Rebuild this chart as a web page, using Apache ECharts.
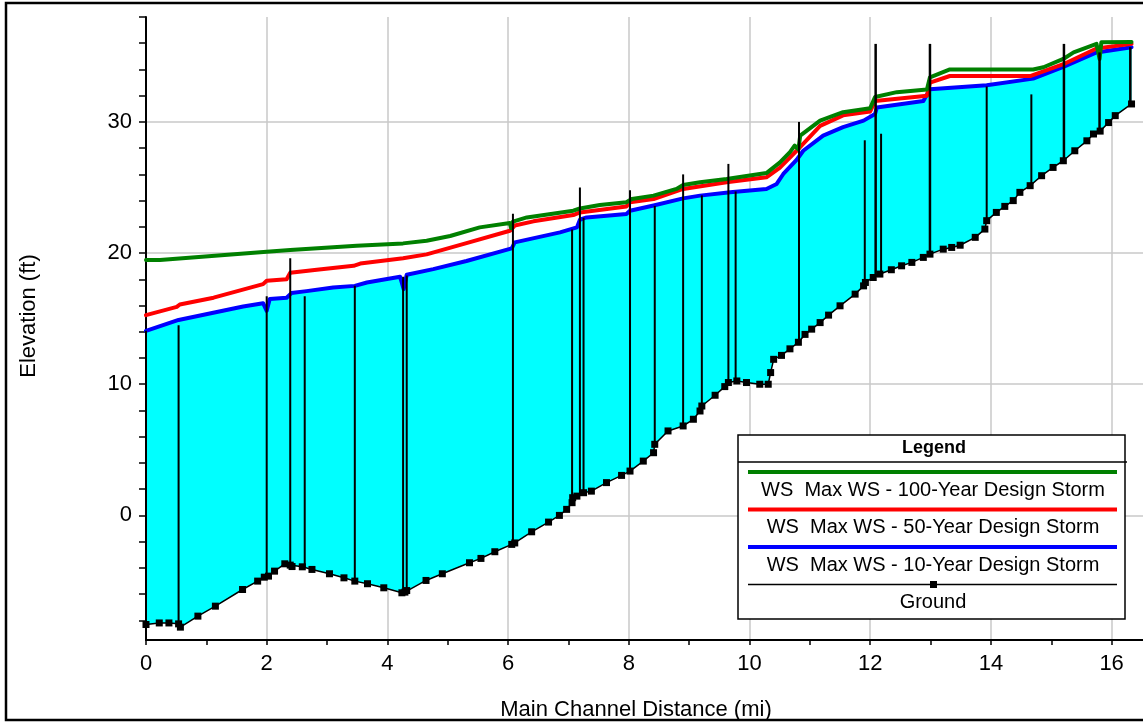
<!DOCTYPE html>
<html>
<head>
<meta charset="utf-8">
<script src="https://cdn.jsdelivr.net/npm/echarts@6/dist/echarts.min.js"></script>
<style>
  html, body { margin: 0; padding: 0; background: #fff; }
  #chart { width: 1143px; height: 725px; }
</style>
</head>
<body>
<div id="chart"></div>
<script>
// profile data, [distance (mi), elevation (ft)]
const ground = [
  [0.00,-8.32],[0.22,-8.2],[0.38,-8.2],[0.54,-8.27],[0.57,-8.52],[0.86,-7.68],[1.15,-6.92],
  [1.60,-5.65],[1.85,-5.01],[1.96,-4.71],[2.03,-4.63],[2.13,-4.25],[2.30,-3.69],[2.39,-3.79],
  [2.42,-3.9],[2.59,-3.92],[2.75,-4.12],[3.04,-4.45],[3.28,-4.76],[3.46,-5.01],[3.67,-5.21],
  [3.94,-5.52],[4.24,-5.90],[4.29,-5.85],[4.32,-5.73],[4.64,-4.96],[4.91,-4.45],[5.36,-3.61],
  [5.55,-3.28],[5.78,-2.77],[6.06,-2.21],[6.11,-2.1],[6.39,-1.25],[6.67,-0.51],[6.85,0.0],
  [6.97,0.46],[7.06,0.97],[7.07,1.35],[7.14,1.47],[7.25,1.73],[7.38,1.85],[7.63,2.5],
  [7.88,3.05],[8.02,3.38],[8.24,4.14],[8.41,4.78],[8.43,5.42],[8.65,6.44],[8.90,6.82],
  [9.07,7.33],[9.18,7.96],[9.21,8.34],[9.43,9.16],[9.59,9.82],[9.65,10.13],[9.79,10.25],
  [9.95,10.13],[10.17,10.0],[10.31,10.0],[10.35,10.89],[10.40,11.9],[10.53,12.2],[10.67,12.7],
  [10.81,13.2],[10.92,13.8],[11.03,14.2],[11.17,14.7],[11.31,15.27],[11.50,15.98],[11.75,16.87],
  [11.89,17.5],[11.92,17.76],[12.05,18.14],[12.16,18.4],[12.35,18.73],[12.52,19.03],[12.69,19.29],
  [12.88,19.67],[12.99,19.92],[13.21,20.3],[13.35,20.43],[13.49,20.6],[13.74,21.2],[13.90,21.83],
  [13.93,22.47],[14.09,23.1],[14.23,23.56],[14.37,24.0],[14.48,24.63],[14.65,25.14],[14.84,25.9],
  [15.03,26.53],[15.20,27.04],[15.39,27.8],[15.59,28.56],[15.70,29.08],[15.81,29.3],[15.95,29.95],
  [16.06,30.48],[16.33,31.37]
];

const ws10 = [
  [0.00,14.07],[0.54,14.9],[1.61,15.93],[1.94,16.18],[2.00,15.6],[2.05,16.5],[2.33,16.6],
  [2.41,16.95],[2.66,17.1],[3.10,17.37],[3.46,17.5],[3.66,17.76],[4.21,18.2],[4.27,17.25],
  [4.32,18.35],[4.76,18.78],[5.31,19.4],[6.06,20.36],[6.11,20.82],[6.86,21.58],[7.14,21.96],
  [7.19,22.55],[7.30,22.72],[7.96,22.98],[8.02,23.23],[8.41,23.63],[8.90,24.17],[9.18,24.38],
  [9.68,24.64],[10.28,24.89],[10.45,25.27],[10.56,26.03],[10.78,27.1],[10.89,27.8],[11.22,28.96],
  [11.55,29.6],[11.89,30.1],[12.08,30.6],[12.11,31.1],[12.88,31.6],[12.99,32.5],[13.93,32.8],
  [14.70,33.3],[15.20,34.2],[15.75,35.3],[16.33,35.7]
];

const ws50 = [
  [0.00,15.27],[0.51,15.9],[0.56,16.08],[1.12,16.6],[1.94,17.63],[2.00,17.89],[2.33,18.0],
  [2.39,18.5],[2.83,18.73],[3.44,19.03],[3.55,19.2],[4.26,19.6],[4.65,19.9],[5.31,20.76],
  [6.03,21.7],[6.11,22.1],[6.42,22.42],[7.08,22.9],[7.19,23.1],[7.96,23.56],[8.02,23.87],
  [8.41,24.12],[8.90,24.89],[9.62,25.4],[10.28,25.78],[10.50,26.5],[10.78,27.8],[11.17,29.7],
  [11.55,30.5],[12.00,30.8],[12.08,31.6],[12.94,32.0],[12.99,33.0],[13.32,33.5],[14.65,33.5],
  [15.20,34.4],[15.75,35.6],[16.33,35.95]
];

const ws100 = [
  [0.00,19.47],[0.23,19.47],[2.00,20.1],[2.39,20.23],[3.49,20.56],[4.26,20.74],[4.65,20.94],
  [5.04,21.3],[5.53,21.96],[6.03,22.29],[6.05,21.9],[6.08,22.4],[6.31,22.72],[7.08,23.23],
  [7.19,23.4],[7.52,23.66],[7.96,23.87],[8.05,24.12],[8.41,24.38],[8.79,24.89],[8.90,25.19],
  [9.18,25.4],[9.62,25.65],[10.28,26.1],[10.50,26.9],[10.67,27.7],[10.75,28.2],[10.81,27.9],
  [10.84,28.96],[11.17,30.1],[11.55,30.74],[12.00,31.05],[12.08,31.9],[12.44,32.27],[12.94,32.48],
  [12.99,33.4],[13.32,34.0],[14.70,34.0],[14.87,34.17],[15.20,34.8],[15.37,35.3],[15.75,35.95],
  [15.80,34.8],[15.83,36.08],[16.33,36.1]
];

// structure lines: [distance, bottom, top]
const structures = [
  [0.00,-8.32,14.07],[0.54,-8.3,14.5],[2.00,-4.65,16.7],[2.39,-3.8,19.6],[2.63,-3.95,16.7],
  [3.46,-5.0,17.5],[4.26,-5.85,18.2],[4.32,-5.75,18.3],[6.08,-2.15,23.0],[7.06,1.0,21.8],
  [7.19,1.5,25.0],[7.25,1.7,22.7],[8.02,3.4,24.8],[8.43,5.3,23.6],[8.90,6.8,26.0],
  [9.21,8.0,24.4],[9.65,10.1,26.8],[9.77,10.2,24.7],[10.82,13.2,30.0],[11.91,17.6,28.6],
  [12.09,18.2,35.95],[12.18,18.4,29.1],[12.99,19.9,35.95],[13.93,22.3,32.7],[14.67,25.2,32.1],
  [15.21,27.0,35.95],[15.80,29.2,35.3],[16.31,31.3,35.7]
];

const xTicks = [0,1,2,3,4,5,6,7,8,9,10,11,12,13,14,15,16];
const xLabels = [0,2,4,6,8,10,12,14,16];
const yTicks = [-8,-6,-4,-2,0,2,4,6,8,10,12,14,16,18,20,22,24,26,28,30,32,34,36,38];
const yLabels = [0,10,20,30];

const legendItems = [
  { name: 'WS  Max WS - 100-Year Design Storm', color: '#008000' },
  { name: 'WS  Max WS - 50-Year Design Storm', color: '#FF0000' },
  { name: 'WS  Max WS - 10-Year Design Storm', color: '#0000FF' },
  { name: 'Ground', color: '#000000' }
];

const FONT = '"Liberation Sans", Arial, sans-serif';
const chart = echarts.init(document.getElementById('chart'));

// legend drawn as graphic (boxed, HEC-RAS style)
let legendGraphic = [
  { type: 'rect', shape: { x: 738, y: 435, width: 387, height: 184 },
    style: { fill: '#fff', stroke: '#000', lineWidth: 1.5 }, z: 100 },
  { type: 'line', shape: { x1: 738, y1: 462, x2: 1127, y2: 462 },
    style: { stroke: '#000', lineWidth: 1.5 }, z: 101 },
  { type: 'text', x: 934, y: 448, z: 101,
    style: { text: 'Legend', font: 'bold 18px ' + FONT, fill: '#000', textAlign: 'center', textVerticalAlign: 'middle' } }
];
legendItems.forEach((it, i) => {
  let ly = 472 + i * 37.5;
  let isGround = it.name == 'Ground';
  legendGraphic.push({ type: 'line', z: 101,
    shape: { x1: 748, y1: ly, x2: 1117, y2: ly },
    style: { stroke: it.color, lineWidth: isGround ? 1.5 : 4 } });
  if (isGround) {
    legendGraphic.push({ type: 'rect', z: 102, shape: { x: 930, y: ly - 3.5, width: 7, height: 7 }, style: { fill: '#000' } });
  }
  legendGraphic.push({ type: 'text', x: 933, y: ly + 18, z: 101,
    style: { text: it.name, font: '20px ' + FONT, fill: '#000', textAlign: 'center', textVerticalAlign: 'middle' } });
});

const gridLine = { show: true, lineStyle: { color: '#c8c8c8', width: 1.5 } };

const option = {
  animation: false,
  backgroundColor: '#fff',
  grid: { left: 146, top: 17, right: -1, bottom: 85, containLabel: false },
  xAxis: [{
    type: 'value', min: 0, max: 16.52,
    axisLine: { show: true, onZero: false, lineStyle: { color: '#000', width: 2 } },
    axisTick: { show: true, length: 5, customValues: xTicks, lineStyle: { color: '#000', width: 1.5 } },
    axisLabel: { customValues: xLabels, margin: 13, color: '#000', fontSize: 22, fontFamily: FONT },
    splitLine: { show: false }
  }, {
    // only carries the major vertical grid lines
    type: 'value', min: 0, max: 16.52, interval: 2, position: 'bottom',
    axisLine: { show: false }, axisTick: { show: false }, axisLabel: { show: false },
    splitLine: Object.assign({ showMinLine: false, showMaxLine: false }, gridLine)
  }],
  yAxis: [{
    type: 'value', min: -9.5, max: 38,
    axisLine: { show: true, onZero: false, lineStyle: { color: '#000', width: 2 } },
    axisTick: { show: true, length: 7, customValues: yTicks, lineStyle: { color: '#000', width: 1.5 } },
    axisLabel: { customValues: yLabels, margin: 14, color: '#000', fontSize: 22, fontFamily: FONT },
    splitLine: { show: false }
  }, {
    type: 'value', min: -9.5, max: 38, splitNumber: 5, position: 'left',
    axisLine: { show: false }, axisTick: { show: false }, axisLabel: { show: false },
    splitLine: Object.assign({ showMinLine: false, showMaxLine: false }, gridLine)
  }],
  graphic: [
    { type: 'rect', shape: { x: 6, y: 3, width: 1150, height: 717 },
      style: { fill: 'none', stroke: '#000', lineWidth: 2.5 }, z: 100 },
    { type: 'text', x: 636, y: 710, z: 100,
      style: { text: 'Main Channel Distance (mi)', font: '22px ' + FONT, fill: '#000', textAlign: 'center', textVerticalAlign: 'middle' } },
    { type: 'text', x: 29, y: 316, rotation: Math.PI / 2, z: 100,
      style: { text: 'Elevation (ft)', font: '22px ' + FONT, fill: '#000', textAlign: 'center', textVerticalAlign: 'middle' } }
  ].concat(legendGraphic),
  series: [
    {
      // cyan water fill between ground and 10-yr water surface
      type: 'custom', name: 'fill', z: 1, silent: true,
      data: [[0, 0]],
      renderItem: function (params, api) {
        let pts = ws10.map(p => api.coord(p));
        let back = ground.slice().reverse().map(p => api.coord(p));
        return { type: 'polygon', shape: { points: pts.concat(back) }, style: { fill: '#00FFFF' } };
      }
    },
    { type: 'line', name: 'WS  Max WS - 10-Year Design Storm', data: ws10, z: 3, showSymbol: false, symbol: 'none',
      lineStyle: { color: '#0000FF', width: 4, cap: 'round', join: 'round' } },
    { type: 'line', name: 'WS  Max WS - 50-Year Design Storm', data: ws50, z: 4, showSymbol: false, symbol: 'none',
      lineStyle: { color: '#FF0000', width: 4, cap: 'round', join: 'round' } },
    { type: 'line', name: 'WS  Max WS - 100-Year Design Storm', data: ws100, z: 5, showSymbol: false, symbol: 'none',
      lineStyle: { color: '#008000', width: 4, cap: 'round', join: 'round' } },
    {
      type: 'custom', name: 'structures', z: 6, silent: true,
      data: structures,
      encode: { x: 0, y: [1, 2] },
      renderItem: function (params, api) {
        let a = api.coord([api.value(0), api.value(1)]);
        let b = api.coord([api.value(0), api.value(2)]);
        let w = b[1] < api.coord([0, 35])[1] ? 2.5 : 2;
        return { type: 'line', shape: { x1: a[0], y1: a[1], x2: b[0], y2: b[1] }, style: { stroke: '#000', lineWidth: w } };
      }
    },
    { type: 'line', name: 'Ground', data: ground, z: 7, symbol: 'rect', symbolSize: 7, showSymbol: true,
      itemStyle: { color: '#000' }, lineStyle: { color: '#000', width: 1.5 } }
  ]
};
chart.setOption(option);
</script>
</body>
</html>
